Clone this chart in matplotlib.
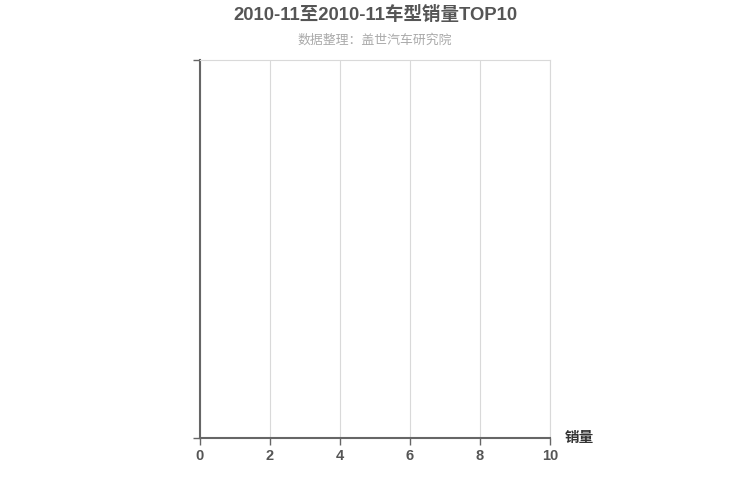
import matplotlib
matplotlib.use("Agg")
import matplotlib.pyplot as plt

plt.rcParams['font.family'] = ['Liberation Sans', 'Noto Sans CJK SC', 'DejaVu Sans']

title = "2010-11至2010-11车型销量TOP10"
subtitle = "数据整理：盖世汽车研究院"
categories = []
sales = []
x_ticks = [0, 2, 4, 6, 8, 10]
x_label = "销量"

fig = plt.figure(figsize=(7.5, 5), dpi=100)
ax = fig.add_axes([200/750, 62/500, 350/750, 378/500])

ax.barh(categories, sales, color="#c23531")
ax.set_xlim(0, 10)
ax.set_ylim(0, 1)
ax.set_xticks(x_ticks)
ax.set_xticklabels([str(t) for t in x_ticks], fontsize=10.5, color="#555555", fontweight="bold")
ax.set_yticks([0, 1])
ax.set_yticklabels([])
ax.tick_params(axis='y', length=5, width=1, color="#666666")
ax.tick_params(axis='x', length=5, width=1, color="#666666", pad=3)
ax.xaxis.grid(True, color="#d9d9d9", linewidth=0.8)
ax.set_axisbelow(True)
for s in ['top', 'right']:
    ax.spines[s].set_color("#d9d9d9")
    ax.spines[s].set_linewidth(0.8)
for s in ['left', 'bottom']:
    ax.spines[s].set_color("#666666")
    ax.spines[s].set_linewidth(1.5)

fig.text(0.5, 1 - 15/500, title, ha='center', va='center', fontsize=13.3,
         fontweight='bold', color="#555555")
fig.text(0.5, 1 - 40/500, subtitle, ha='center', va='center', fontsize=9.3,
         color="#aaaaaa")
fig.text(565/750, 1 - 438/500, x_label, ha='left', va='center', fontsize=10.5,
         fontweight='bold', color="#333333")

fig.savefig("out.png", dpi=100)
